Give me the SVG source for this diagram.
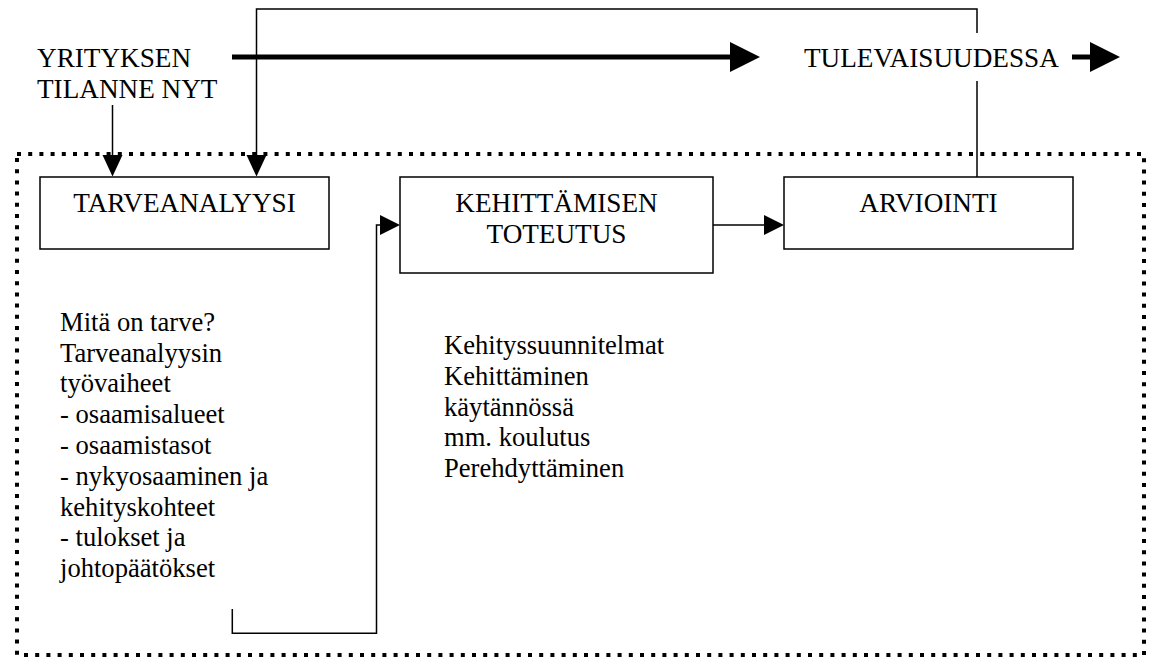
<svg xmlns="http://www.w3.org/2000/svg" width="1153" height="659" viewBox="0 0 1153 659">
<style>
text{font-family:'Liberation Serif','DejaVu Serif',serif;font-size:26.6px;fill:#000}
text.cap{font-size:27.2px}
.box{fill:#fff;stroke:#000;stroke-width:1.5}
.ln{fill:none;stroke:#000;stroke-width:1.5}
.thick{fill:none;stroke:#000;stroke-width:5}
.head{fill:#000}
.frame{fill:none;stroke:#000;stroke-width:4;stroke-dasharray:4 7.2}
</style>
<rect width="1153" height="659" fill="#fff"/>
<g id="frame"><rect class="frame" x="17" y="154" width="1127" height="501"/></g>
<g id="connectors">
<line class="thick" x1="232" y1="57" x2="731" y2="57"/>
<polygon class="head" points="730,42 760,57 730,72"/>
<line class="thick" x1="1072" y1="57" x2="1091" y2="57"/>
<polygon class="head" points="1090,42 1120,57 1090,72"/>
<polyline class="ln" points="977,33 977,9 256.5,9 256.5,156"/>
<polygon class="head" points="246.5,155 266.5,155 256.5,176.5"/>
<line class="ln" x1="977" y1="81" x2="977" y2="177"/>
<line class="ln" x1="112.5" y1="105" x2="112.5" y2="156"/>
<polygon class="head" points="102.5,155 122.5,155 112.5,176.5"/>
<polyline class="ln" points="232.3,609 232.3,633.3 376.5,633.3 376.5,225 381,225"/>
<polygon class="head" points="380,215 400,225 380,235"/>
<line class="ln" x1="713" y1="225" x2="765" y2="225"/>
<polygon class="head" points="764,215 784,225 764,235"/>
</g>
<g id="start"><text class="cap" x="37" y="67">YRITYKSEN</text><text class="cap" x="37" y="98">TILANNE NYT</text></g>
<g id="future"><text class="cap" x="804" y="67">TULEVAISUUDESSA</text></g>
<g id="tarveanalyysi"><rect class="box" x="40" y="177" width="289" height="72"/><text class="cap" x="184.5" y="212" text-anchor="middle">TARVEANALYYSI</text></g>
<g id="kehittaminen"><rect class="box" x="400" y="177" width="313" height="96"/><text class="cap" x="556.5" y="212" text-anchor="middle">KEHITTÄMISEN</text><text class="cap" x="556.5" y="243" text-anchor="middle">TOTEUTUS</text></g>
<g id="arviointi"><rect class="box" x="784" y="177" width="289" height="72"/><text class="cap" x="928.5" y="212" text-anchor="middle">ARVIOINTI</text></g>
<g id="notes-tarve">
<text x="60" y="331">Mitä on tarve?</text>
<text x="60" y="361.7">Tarveanalyysin</text>
<text x="60" y="392.3">työvaiheet</text>
<text x="60" y="423">- osaamisalueet</text>
<text x="60" y="454">- osaamistasot</text>
<text x="60" y="485">- nykyosaaminen ja</text>
<text x="60" y="515.7">kehityskohteet</text>
<text x="60" y="546">- tulokset ja</text>
<text x="60" y="576.7">johtopäätökset</text>
</g>
<g id="notes-kehitys">
<text x="444" y="354">Kehityssuunnitelmat</text>
<text x="444" y="385">Kehittäminen</text>
<text x="444" y="415.7">käytännössä</text>
<text x="444" y="446">mm. koulutus</text>
<text x="444" y="476.7">Perehdyttäminen</text>
</g>
</svg>
